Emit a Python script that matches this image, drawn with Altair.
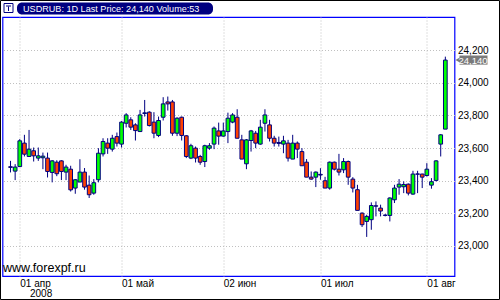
import altair as alt
import pandas as pd

# ---- data ----
opens = [23485, 23458, 23486, 23630, 23548, 23583, 23538, 23540, 23538, 23450,
         23513, 23521, 23452, 23470, 23354, 23391, 23452, 23372, 23323, 23405,
         23564, 23630, 23593, 23670, 23624, 23752, 23773, 23742, 23701, 23812,
         23820, 23759, 23677, 23789, 23883, 23883, 23691, 23789, 23675, 23538,
         23599, 23548, 23517, 23599, 23624, 23705, 23673, 23701, 23759, 23789,
         23650, 23503, 23646, 23691, 23624, 23752, 23742, 23660, 23634, 23624,
         23630, 23532, 23630, 23578, 23513, 23421, 23421, 23438, 23399, 23354,
         23513, 23470, 23466, 23517, 23409, 23344, 23200, 23149, 23160, 23245,
         23231, 23188, 23186, 23282, 23360, 23362, 23378, 23317, 23441, 23440,
         23431, 23372, 23401, 23624, 23716]
highs = [23521, 23501, 23655, 23681, 23711, 23603, 23603, 23572, 23572, 23525,
         23525, 23525, 23497, 23491, 23409, 23531, 23477, 23431, 23409, 23599,
         23660, 23660, 23681, 23695, 23765, 23814, 23789, 23752, 23834, 23895,
         23826, 23820, 23793, 23912, 23916, 23895, 23789, 23793, 23679, 23626,
         23609, 23558, 23620, 23630, 23732, 23756, 23756, 23817, 23814, 23838,
         23681, 23655, 23711, 23705, 23773, 23838, 23773, 23675, 23670, 23675,
         23650, 23681, 23640, 23599, 23532, 23456, 23456, 23476, 23423, 23517,
         23517, 23564, 23538, 23523, 23421, 23374, 23205, 23190, 23266, 23272,
         23252, 23195, 23297, 23374, 23409, 23395, 23382, 23460, 23460, 23442,
         23507, 23415, 23525, 23685, 24161]
lows = [23450, 23403, 23486, 23548, 23548, 23517, 23521, 23470, 23419, 23389,
        23427, 23403, 23403, 23333, 23319, 23391, 23344, 23293, 23313, 23389,
        23548, 23564, 23578, 23609, 23603, 23726, 23711, 23646, 23701, 23793,
        23732, 23660, 23667, 23769, 23830, 23675, 23673, 23646, 23538, 23532,
        23511, 23497, 23483, 23589, 23593, 23620, 23670, 23630, 23752, 23660,
        23532, 23470, 23578, 23599, 23620, 23701, 23640, 23609, 23609, 23568,
        23517, 23532, 23538, 23491, 23421, 23405, 23360, 23405, 23354, 23344,
        23462, 23431, 23446, 23374, 23327, 23217, 23115, 23054, 23098, 23180,
        23180, 23180, 23149, 23262, 23313, 23323, 23309, 23313, 23323, 23354,
        23425, 23350, 23395, 23548, 23716]
closes = [23481, 23483, 23644, 23562, 23593, 23552, 23552, 23550, 23456, 23521,
          23442, 23456, 23483, 23343, 23405, 23452, 23360, 23313, 23387, 23568,
          23640, 23599, 23660, 23630, 23759, 23803, 23728, 23707, 23803, 23816,
          23738, 23691, 23769, 23871, 23871, 23691, 23783, 23677, 23548, 23614,
          23538, 23513, 23614, 23614, 23722, 23673, 23705, 23783, 23803, 23660,
          23532, 23650, 23705, 23630, 23728, 23803, 23660, 23630, 23628, 23644,
          23538, 23630, 23593, 23491, 23421, 23409, 23452, 23434, 23354, 23513,
          23470, 23452, 23517, 23421, 23354, 23217, 23129, 23180, 23247, 23243,
          23213, 23186, 23293, 23354, 23378, 23376, 23323, 23440, 23439, 23421,
          23470, 23393, 23521, 23681, 24140]

tick_idx = [2, 24, 46, 67, 90]
tick_labels = ["01 апр", "01 май", "02 июн", "01 июл", "01 авг"]
year_label = "2008"
y_ticks = [23000, 23200, 23400, 23600, 23800, 24000, 24200]
header_text = "USDRUB: 1D Last Price: 24,140 Volume:53"
watermark = "www.forexpf.ru"
last_label = "24,140"

# ---- layout ----
W, H = 452, 259
FONT = "Liberation Sans"
NAVY = "#000080"
UP = "#00FF00"
DOWN = "#FF4000"
TAG = "#7A7A7A"

df = pd.DataFrame({"i": list(range(len(opens))), "open": opens, "high": highs,
                   "low": lows, "close": closes})
df["lo"] = df[["open", "close"]].min(axis=1)
df["hi"] = df[["open", "close"]].max(axis=1)
df["dir"] = ["up" if c >= o else "down" for o, c in zip(opens, closes)]

expr = "''"
for v, lab in zip(reversed(tick_idx), reversed(tick_labels)):
    expr = f"datum.value == {v} ? '{lab}' : ({expr})"

xs = alt.Scale(domain=[-0.655, 94.9], nice=False, zero=False)
ys = alt.Scale(domain=[22814, 24404.5], nice=False, zero=False)
xaxis = alt.Axis(values=tick_idx, labelExpr=expr, grid=True, domain=False, ticks=False,
                 labelAlign="left", labelBaseline="top", labelPadding=2, labelFlush=False,
                 labelOverlap=False, labelFont=FONT, labelFontSize=10, labelColor="black",
                 gridColor="#C0C0C0", gridDash=[1, 2], title=None)
yaxis = alt.Axis(values=y_ticks, orient="right", format=",.0f", grid=True, domain=False,
                 ticks=False, labelAlign="left", labelBaseline="middle", labelPadding=3,
                 labelFont=FONT, labelFontSize=10, labelColor="black",
                 gridColor="#C0C0C0", gridDash=[1, 2], title=None)

base = alt.Chart(df)
wicks = base.mark_rule(color=NAVY, strokeWidth=1).encode(
    x=alt.X("i:Q", scale=xs, axis=xaxis),
    y=alt.Y("low:Q", scale=ys, axis=yaxis),
    y2="high:Q",
)
bodies = base.mark_bar(size=3.7, stroke=NAVY, strokeWidth=1).encode(
    x=alt.X("i:Q", scale=xs, axis=xaxis),
    y=alt.Y("lo:Q", scale=ys, axis=yaxis),
    y2="hi:Q",
    fill=alt.Fill("dir:N", scale=alt.Scale(domain=["up", "down"], range=[UP, DOWN]), legend=None),
)

last = pd.DataFrame({"v": [closes[-1]], "t": [last_label]})
last["top"] = last["v"] + 28
last["bot"] = last["v"] - 28
tag_box = alt.Chart(last).mark_rect(fill=TAG, opacity=1).encode(
    x=alt.value(W + 5), x2=alt.value(W + 33),
    y=alt.Y("top:Q", scale=ys, axis=yaxis), y2="bot:Q")
tag_tip = alt.Chart(last).mark_point(
    shape="triangle-left", size=50, filled=True, fill=TAG, opacity=1, strokeWidth=0,
).encode(x=alt.value(W + 4), y=alt.Y("v:Q", scale=ys, axis=yaxis))
tag_text = alt.Chart(last).mark_text(
    font=FONT, fontSize=9.5, color="white", align="left", baseline="middle", dy=0.5,
).encode(x=alt.value(W + 4), y=alt.Y("v:Q", scale=ys, axis=yaxis), text="t:N")

one = pd.DataFrame({"a": [0]})
hdr_box = alt.Chart(one).mark_rect(fill=NAVY, cornerRadius=5).encode(
    x=alt.value(14.5), x2=alt.value(210.5), y=alt.value(-14.5), y2=alt.value(-2.5))
hdr_txt = alt.Chart(one).mark_text(
    text=header_text, font=FONT, fontSize=9.1, color="white", align="left", baseline="middle",
).encode(x=alt.value(20.5), y=alt.value(-8.3))
icon = alt.Chart(one).mark_rect(fill="white", stroke=NAVY, strokeWidth=1).encode(
    x=alt.value(1.5), x2=alt.value(10.5), y=alt.value(-13.5), y2=alt.value(-4.5))
icon_in = alt.Chart(one).mark_rect(fill=NAVY).encode(
    x=alt.value(3.5), x2=alt.value(8.5), y=alt.value(-11.5), y2=alt.value(-10.5))
icon_in2 = alt.Chart(one).mark_rule(color=NAVY, strokeWidth=1).encode(
    x=alt.value(6), y=alt.value(-10.5), y2=alt.value(-6))

wm = alt.Chart(one).mark_text(
    text=watermark, font=FONT, fontSize=12.5, color="black",
    align="left", baseline="alphabetic",
).encode(x=alt.value(0.5), y=alt.value(H - 4.5))
year = alt.Chart(one).mark_text(
    text=year_label, font=FONT, fontSize=10, color="black", align="left", baseline="top",
).encode(x=alt.value(27.5), y=alt.value(H + 12.5))
frame = alt.Chart(one).mark_rect(fill=None, stroke="black", strokeWidth=1).encode(
    x=alt.value(-2), x2=alt.value(W + 45), y=alt.value(-16.5), y2=alt.value(H + 23.5))

chart = alt.layer(
    wicks, bodies, tag_box, tag_tip, tag_text, hdr_box, hdr_txt, icon, icon_in, icon_in2,
    wm, year, frame
).properties(
    width=W, height=H,
    autosize=alt.AutoSizeParams(type="none"),
    padding={"left": 2.5, "top": 17, "right": 45.5, "bottom": 24},
    background="white",
).configure_view(stroke="#0000FF", strokeWidth=1.2)

chart.save("out.html", embed_options={"renderer": "svg", "actions": False})
